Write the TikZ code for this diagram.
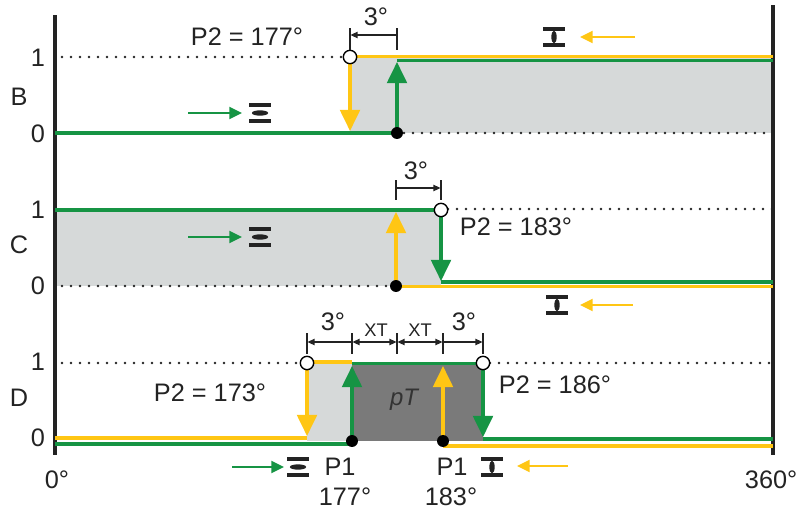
\documentclass[tikz,border=0pt]{standalone}
\usepackage{fontspec}
\setmainfont{Liberation Sans}
\usepackage{xcolor}
\usepackage{tikz}
\usetikzlibrary{arrows.meta}
\definecolor{stepgreen}{RGB}{22,148,68}
\definecolor{stepyellow}{RGB}{255,198,20}
\definecolor{lightband}{RGB}{214,217,217}
\definecolor{darkband}{RGB}{122,122,122}
\definecolor{inkgray}{RGB}{35,35,35}
\tikzset{
  gtrace/.style={stepgreen, line width=2.6pt},
  ytrace/.style={stepyellow, line width=2.6pt},
  gjump/.style={stepgreen, line width=2.2pt, -{Triangle[length=15pt, width=14pt]}},
  yjump/.style={stepyellow, line width=2.2pt, -{Triangle[length=15pt, width=14pt]}},
  gpush/.style={stepgreen, line width=1.6pt, -{Triangle[length=9pt, width=8.5pt]}},
  ypull/.style={stepyellow, line width=1.6pt, -{Triangle[length=9pt, width=8.5pt]}},
  levelline/.style={inkgray, line width=1.9pt, line cap=round, dash pattern=on 0pt off 6.4pt},
  axisline/.style={inkgray, line width=2.2pt},
  dimtick/.style={inkgray, line width=0.8pt},
  dimarrow/.style={inkgray, line width=0.8pt, -{Triangle[length=5pt, width=4.5pt]}},
  dimboth/.style={inkgray, line width=0.8pt, {Triangle[length=5pt, width=4.5pt]}-{Triangle[length=5pt, width=4.5pt]}},
  opencirc/.style={circle, draw=black, fill=white, line width=1pt, minimum size=9.5pt, inner sep=0pt},
  pivot/.style={circle, fill=black, minimum size=8.5pt, inner sep=0pt},
  lensflat/.pic={
    \draw[inkgray, line width=2.2pt] (-7.8pt,5.7pt) -- (7.8pt,5.7pt) (-7.8pt,-5.7pt) -- (7.8pt,-5.7pt);
    \fill[inkgray] (0,0) ellipse (5.8pt and 1.9pt);
  },
  lensup/.pic={
    \draw[inkgray, line width=2.2pt] (-7.8pt,5.7pt) -- (7.8pt,5.7pt) (-7.8pt,-5.7pt) -- (7.8pt,-5.7pt);
    \fill[inkgray] (0,0) ellipse (1.9pt and 4.6pt);
  }
}

\begin{document}
\begin{tikzpicture}[x=0.025cm, y=-0.025cm, font=\fontsize{18}{20}\selectfont, text=inkgray]
  \useasboundingbox (0,0) rectangle (800,513);
  % switching points
  \coordinate (oB) at (350,57);
  \coordinate (dB) at (397,133);
  \coordinate (oC) at (441,210);
  \coordinate (dC) at (396,286);
  \coordinate (oDl) at (307,363);
  \coordinate (oDr) at (483,363);
  \coordinate (dDl) at (352,441);
  \coordinate (dDr) at (443,441);
  % shaded bands
  \fill[lightband] (350,58) rectangle (773,133);
  \fill[lightband] (55,212) rectangle (441,286);
  \fill[lightband] (307,363) rectangle (352,441);
  \fill[darkband] (352,364) rectangle (483,441);
  % dotted levels
  \foreach \xa/\xb/\y in {62/343/57, 404/773/133, 62/389/286, 448/773/209, 62/300/363, 490/773/363}
    \draw[levelline] (\xa,\y) -- (\xb,\y);
  % axes
  \draw[axisline] (55,15) -- (55,455);
  \draw[axisline] (773,5) -- (773,455);
  % B
  \draw[ytrace] (350,56.5) -- (773,56.5);
  \draw[gtrace] (55,133) -- (dB);
  \draw[gtrace] (397,60.5) -- (773,60.5);
  \draw[yjump] (oB) -- (350,131);
  \draw[gjump] (dB) -- (397,62);
  % C
  \draw[gtrace] (55,210) -- (oC);
  \draw[gtrace] (441,282) -- (773,282);
  \draw[ytrace] (396,286.5) -- (773,286.5);
  \draw[gjump] (oC) -- (441,281);
  \draw[yjump] (dC) -- (396,212);
  % D
  \draw[ytrace] (55,438) -- (307,438);
  \draw[ytrace] (307,362) -- (352,362);
  \draw[ytrace] (443,446) -- (773,446);
  \draw[gtrace] (55,444) -- (352,444);
  \draw[gtrace] (352,363.5) -- (483,363.5);
  \draw[gtrace] (483,439) -- (773,439);
  \draw[yjump] (oDl) -- (307,436);
  \draw[gjump] (dDl) -- (352,366);
  \draw[yjump] (dDr) -- (443,366);
  \draw[gjump] (oDr) -- (483,437);
  % circles and dots
  \foreach \p in {oB, oC, oDl, oDr}
    \node[opencirc] at (\p) {};
  \foreach \p in {dB, dC, dDl, dDr}
    \node[pivot] at (\p) {};
  % 3 degree spans
  \foreach \x in {350,397}
    \draw[dimtick] (\x,28) -- (\x,50);
  \draw[dimarrow] (397,35) -- (350.5,35);
  \foreach \x in {396,441}
    \draw[dimtick] (\x,180) -- (\x,200);
  \draw[dimarrow] (396,188) -- (440.5,188);
  \foreach \x in {307,352,397,443,483}
    \draw[dimtick] (\x,333) -- (\x,354);
  \draw[dimarrow] (352,342) -- (307.5,342);
  \draw[dimboth] (352.5,342) -- (396.5,342);
  \draw[dimboth] (397.5,342) -- (442.5,342);
  \draw[dimarrow] (443,342) -- (482.5,342);
  \node (degB) at (376,17) {3°};
  \node (degC) at (416,171) {3°};
  \node (degDl) at (333,322) {3°};
  \node (degDr) at (464,322) {3°};
  \node[font=\fontsize{13}{15}\selectfont] (xtl) at (376,330) {XT};
  \node[font=\fontsize{13}{15}\selectfont] (xtr) at (420,330) {XT};
  % level and row labels
  \foreach \y/\n in {58/1, 134/0, 210/1, 286/0, 362/1, 438/0}
    \node (lv\y) at (38,\y) {\n};
  \foreach \y/\n in {97/B, 245/C, 398/D}
    \node (row\n) at (19,\y) {\n};
  \node (zero) at (57,480) {0°};
  \node[anchor=west] (full) at (740,480) {360°};
  % P2 settings
  \node (p2B) at (247,37) {P2 = 177°};
  \node (p2C) at (516,227) {P2 = 183°};
  \node (p2Dl) at (210,393) {P2 = 173°};
  \node (p2Dr) at (555,385) {P2 = 186°};
  \node[font=\fontsize{17}{19}\selectfont\itshape, text=black!80] (pT) at (404,400) {pT};
  % lens moves
  \draw[gpush] (188,113) -- (242,113);
  \pic at (260,113) {lensflat};
  \draw[gpush] (188,237) -- (242,237);
  \pic at (260,237) {lensflat};
  \pic at (554,37) {lensup};
  \draw[ypull] (635,37) -- (580,37);
  \pic at (557,305) {lensup};
  \draw[ypull] (633,305) -- (580,305);
  \draw[gpush] (232,467) -- (284,467);
  \pic at (298,467) {lensflat};
  \node (p1l) at (340,467) {P1};
  \node (p1lv) at (345,497) {177°};
  \node (p1r) at (452,467) {P1};
  \pic at (492,467) {lensup};
  \draw[ypull] (568,466) -- (517,466);
  \node (p1rv) at (451,497) {183°};
\end{tikzpicture}
\end{document}
